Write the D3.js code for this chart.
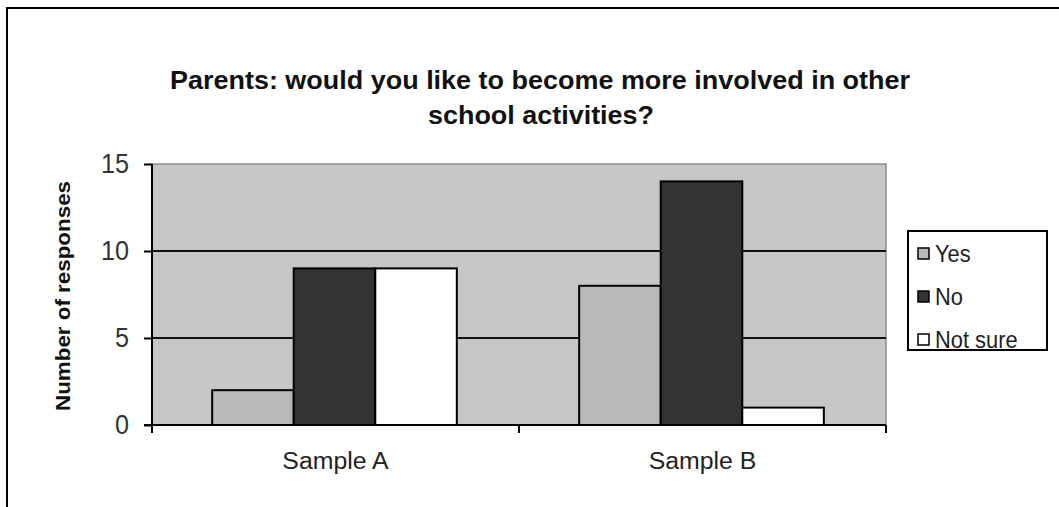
<!DOCTYPE html>
<html>
<head>
<meta charset="utf-8">
<script src="https://cdn.jsdelivr.net/npm/d3@7"></script>
<style>
  body { margin: 0; background: #fff; }
  svg { display: block; font-family: "Liberation Sans", Arial, sans-serif; }
</style>
</head>
<body>
<svg id="chart" width="1059" height="507"></svg>
<script>
// chart data
const categories = ["Sample A", "Sample B"];
const seriesNames = ["Yes", "No", "Not sure"];
const yesValues = [2, 8];
const noValues = [9, 14];
const notSureValues = [9, 1];
const yTicks = [0, 5, 10, 15];

const seriesColors = ["#b9b9b9", "#333333", "#ffffff"];
const seriesValues = [yesValues, noValues, notSureValues];

const svg = d3.select("#chart");

// the original was rendered with narrow, tall glyphs: squeeze text horizontally
function condense(sel, factor) {
  sel.each(function() {
    const w = this.getComputedTextLength();
    d3.select(this).attr("textLength", w * factor).attr("lengthAdjust", "spacingAndGlyphs");
  });
}

// outer chart border (only top and left are visible in the picture)
svg.append("path")
  .attr("d", "M7,507 L7,8 L1059,8")
  .attr("fill", "none")
  .attr("stroke", "#000")
  .attr("stroke-width", 2);

// title
const title = svg.append("g").attr("font-weight", "bold").attr("font-size", 25).attr("fill", "#111");
title.append("text").attr("x", 540).attr("y", 89).attr("text-anchor", "middle")
  .attr("textLength", 740).attr("lengthAdjust", "spacingAndGlyphs")
  .text("Parents: would you like to become more involved in other");
title.append("text").attr("x", 541).attr("y", 124).attr("text-anchor", "middle")
  .attr("textLength", 226).attr("lengthAdjust", "spacingAndGlyphs")
  .text("school activities?");

const plot = { left: 152, right: 886, top: 164, bottom: 425 };

const x = d3.scaleBand().domain(categories).range([plot.left, plot.right]).paddingInner(0).paddingOuter(0);
const y = d3.scaleLinear().domain([0, 15]).range([plot.bottom, plot.top]);

// within each category, bars take 3 slots with a 150% gap
const inner = d3.scaleBand().domain(seriesNames).range([0, x.bandwidth()]).paddingInner(0).paddingOuter(0.75);

// plot background
svg.append("rect")
  .attr("x", plot.left).attr("y", plot.top)
  .attr("width", plot.right - plot.left).attr("height", plot.bottom - plot.top)
  .attr("fill", "#c6c6c6")
  .attr("stroke", "#8a8a8a")
  .attr("stroke-width", 1.5);

// gridlines
svg.append("g").selectAll("line")
  .data(yTicks.filter(d => d > 0 && d < 15))
  .join("line")
  .attr("x1", plot.left).attr("x2", plot.right)
  .attr("y1", d => y(d)).attr("y2", d => y(d))
  .attr("stroke", "#111").attr("stroke-width", 2);

// bars
const rows = [];
categories.forEach((c, i) => {
  seriesNames.forEach((s, j) => rows.push({ cat: c, series: s, value: seriesValues[j][i], color: seriesColors[j] }));
});

svg.append("g").selectAll("rect")
  .data(rows)
  .join("rect")
  .attr("x", d => x(d.cat) + inner(d.series) - 1)
  .attr("y", d => y(d.value))
  .attr("width", inner.bandwidth())
  .attr("height", d => y(0) - y(d.value))
  .attr("fill", d => d.color)
  .attr("stroke", "#000")
  .attr("stroke-width", 2);

// y axis
const yAxis = svg.append("g")
  .attr("transform", `translate(${plot.left},0)`)
  .call(d3.axisLeft(y).tickValues(yTicks).tickSize(8).tickPadding(15));
yAxis.select(".domain").attr("stroke", "#000").attr("stroke-width", 2).attr("d", `M0,${plot.top}V${plot.bottom}`);
yAxis.selectAll(".tick line").attr("stroke", "#000").attr("stroke-width", 2);
yAxis.selectAll(".tick text")
  .attr("font-size", 28).attr("fill", "#333")
  .attr("font-family", "\"Liberation Sans\", Arial, sans-serif")
  .call(condense, 0.9);

// x axis
const xAxis = svg.append("g")
  .attr("transform", `translate(0,${plot.bottom})`)
  .call(d3.axisBottom(x).tickSize(0).tickPadding(28));
xAxis.select(".domain").attr("stroke", "#000").attr("stroke-width", 2).attr("d", `M${plot.left - 8},0H${plot.right}`);
xAxis.selectAll(".tick text")
  .attr("font-size", 23).attr("fill", "#222")
  .attr("font-family", "\"Liberation Sans\", Arial, sans-serif")
  .call(condense, 1.08);

// category boundary ticks
const bounds = categories.map(c => x(c)).concat([plot.right]);
svg.append("g").selectAll("line")
  .data(bounds)
  .join("line")
  .attr("x1", d => d).attr("x2", d => d)
  .attr("y1", plot.bottom).attr("y2", plot.bottom + 8)
  .attr("stroke", "#000").attr("stroke-width", 2);

// y axis title
svg.append("text")
  .attr("transform", `translate(70,296) rotate(-90)`)
  .attr("text-anchor", "middle")
  .attr("font-weight", "bold")
  .attr("font-size", 21)
  .attr("fill", "#111")
  .attr("textLength", 230).attr("lengthAdjust", "spacingAndGlyphs")
  .text("Number of responses");

// legend
const legend = svg.append("g");
legend.append("rect")
  .attr("x", 908).attr("y", 231).attr("width", 139).attr("height", 119)
  .attr("fill", "#fff").attr("stroke", "#000").attr("stroke-width", 2);

const legendY = d3.scalePoint().domain(seriesNames).range([254, 340]);
const items = legend.selectAll("g.item")
  .data(seriesNames)
  .join("g")
  .attr("class", "item")
  .attr("transform", d => `translate(0,${legendY(d)})`);
items.append("rect")
  .attr("x", 918).attr("y", -6).attr("width", 11).attr("height", 11)
  .attr("fill", (d, i) => seriesColors[i])
  .attr("stroke", "#000").attr("stroke-width", 1.5);
items.append("text")
  .attr("x", 935).attr("y", 8)
  .attr("font-size", 23).attr("fill", "#222")
  .text(d => d)
  .call(condense, 0.95);
</script>
</body>
</html>
